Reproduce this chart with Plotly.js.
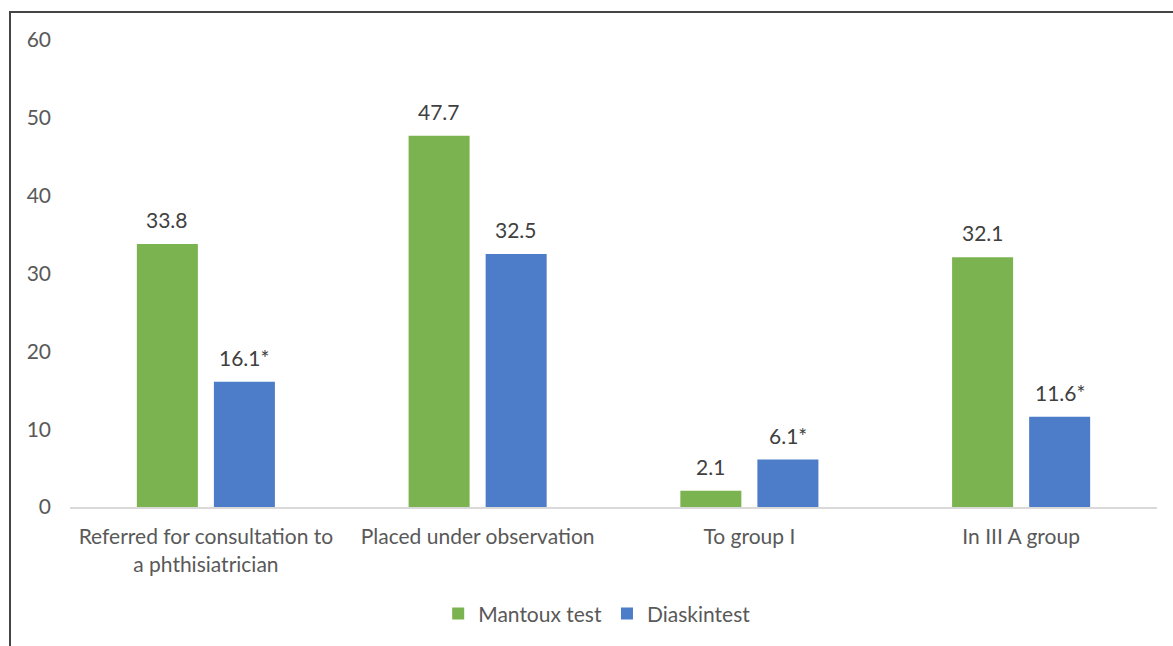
<!DOCTYPE html>
<html>
<head>
<meta charset="utf-8">
<script src="https://cdn.plot.ly/plotly-3.0.1.min.js"></script>
<style>
html,body{margin:0;padding:0;background:#fff;overflow:hidden;}
#frame{position:absolute;left:9px;top:11px;width:1300px;height:800px;border:2px solid #454545;box-sizing:border-box;pointer-events:none;z-index:5;}
#chart{position:absolute;left:0;top:0;width:1173px;height:646px;}
</style>
</head>
<body>
<div id="chart"></div>
<div id="frame"></div>
<script>
var categories = ["Referred for consultation to<br>a phthisiatrician", "Placed under observation", "To group I", "In III A group"];
var mantoux = [33.8, 47.7, 2.1, 32.1];
var mantouxLabels = ["33.8", "47.7", "2.1", "32.1"];
var diaskin = [16.1, 32.5, 6.1, 11.6];
var diaskinLabels = ["16.1*", "32.5", "6.1*", "11.6*"];
var seriesNames = ["Mantoux test", "Diaskintest"];

var fontFam = "Lato, 'Open Sans', sans-serif";
var fs = 21;
var traces = [
  {type:'bar', name:seriesNames[0], x:categories, y:mantoux, marker:{color:'#7ab34f'}},
  {type:'bar', name:seriesNames[1], x:categories, y:diaskin, marker:{color:'#4d7cc8'}}
];
var annotations = [];
function addLabels(vals, labels, shift) {
  for (var i = 0; i < categories.length; i++) {
    annotations.push({x:categories[i], y:vals[i], xref:'x', yref:'y', text:labels[i], showarrow:false,
      xanchor:'center', yanchor:'bottom', xshift:shift, yshift:10,
      font:{family:fontFam, size:fs, color:'#404040'}});
  }
}
addLabels(mantoux, mantouxLabels, -38.5);
addLabels(diaskin, diaskinLabels, 38.5);

var layout = {
  width:1173, height:646,
  margin:{l:70, r:16, t:40, b:139, autoexpand:false},
  paper_bgcolor:'#fff', plot_bgcolor:'#fff',
  font:{family:fontFam, color:'#595959', size:fs},
  barmode:'group', bargap:0.433, bargroupgap:0.208,
  xaxis:{showline:true, linecolor:'#d9d9d9', linewidth:2, ticks:'', automargin:false, tickfont:{size:fs, color:'#595959'}, ticklabelstandoff:10},
  yaxis:{range:[0,60], dtick:10, showgrid:false, zeroline:false, showline:false, ticks:'', automargin:false, tickfont:{size:fs, color:'#595959'}, ticklabelstandoff:18},
  showlegend:true,
  annotations:annotations,
  legend:{orientation:'h', x:0.485, xanchor:'center', y:-0.229, yanchor:'middle', font:{size:fs, color:'#595959'}, itemwidth:30}
};
Plotly.newPlot('chart', traces, layout, {displayModeBar:false, staticPlot:true});
</script>
</body>
</html>
